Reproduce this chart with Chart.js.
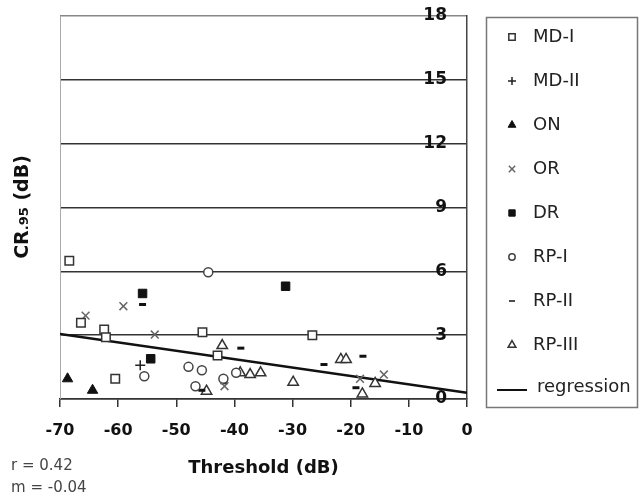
<!DOCTYPE html>
<html>
<head>
<meta charset="utf-8">
<script src="https://cdn.jsdelivr.net/npm/chart.js"></script>
<style>
  html, body { margin: 0; padding: 0; background: #fff; }
  canvas { display: block; }
</style>
</head>
<body>
<canvas id="c" width="639" height="495"></canvas>
<script>
// Axis ticks (dB)
const xTicks = [-70, -60, -50, -40, -30, -20, -10, 0];
const yTicks = [0, 3, 6, 9, 12, 15, 18];

// Series: [threshold dB, CR.95 dB]
const mdI   = [[-68.4, 6.5], [-66.4, 3.58], [-62.4, 3.27], [-62.1, 2.9], [-60.5, 0.95], [-45.5, 3.14], [-42.9, 2.04], [-26.6, 3.0]];
const mdII  = [[-56.2, 1.59]];
const on    = [[-68.7, 0.95], [-64.4, 0.41]];
const or    = [[-65.6, 3.92], [-59.1, 4.36], [-53.7, 3.03], [-41.7, 0.6], [-18.4, 0.95], [-14.3, 1.15]];
const dr    = [[-55.8, 4.96], [-54.4, 1.89], [-31.2, 5.3]];
const rpI   = [[-55.5, 1.07], [-47.9, 1.51], [-45.6, 1.35], [-46.7, 0.6], [-44.5, 5.96], [-41.9, 0.95], [-39.7, 1.23]];
const rpII  = [[-55.8, 4.44], [-38.9, 2.39], [-24.6, 1.62], [-17.9, 2.01], [-19.1, 0.53], [-41.8, 0.76], [-45.6, 0.41]];
const rpIII = [[-42.1, 2.51], [-44.8, 0.37], [-39.0, 1.23], [-37.3, 1.15], [-35.5, 1.23], [-29.9, 0.79], [-21.7, 1.86], [-20.8, 1.86], [-15.8, 0.73], [-18.0, 0.24]];
const regression = [[-70, 3.05], [0, 0.29]];

const statLines = ['r = 0.42', 'm = -0.04'];

const toXY = arr => arr.map(([x, y]) => ({ x, y }));

function scatterSet(label, data, style) {
  return Object.assign({ type: 'scatter', label, data: toXY(data) }, style);
}

const datasets = [
  scatterSet('MD-I', mdI, { pointStyle: 'rect', pointRadius: 6, backgroundColor: '#fff', borderColor: '#333', borderWidth: 1.5, legendRadius: 4.5 }),
  scatterSet('MD-II', mdII, { pointStyle: 'cross', pointRadius: 5, backgroundColor: '#222', borderColor: '#222', borderWidth: 1.5, legendRadius: 4 }),
  scatterSet('ON', on, { pointStyle: 'triangle', pointRadius: 6, backgroundColor: '#111', borderColor: '#111', borderWidth: 1, legendRadius: 4.5 }),
  scatterSet('OR', or, { pointStyle: 'crossRot', pointRadius: 5.5, backgroundColor: '#666', borderColor: '#666', borderWidth: 1.5, legendRadius: 4.5 }),
  scatterSet('DR', dr, { pointStyle: 'rect', pointRadius: 6, backgroundColor: '#111', borderColor: '#111', borderWidth: 1, legendRadius: 4.5 }),
  scatterSet('RP-I', rpI, { pointStyle: 'circle', pointRadius: 4.5, backgroundColor: '#fff', borderColor: '#444', borderWidth: 1.5, legendRadius: 3.2 }),
  scatterSet('RP-II', rpII, { pointStyle: 'line', pointRadius: 3.5, backgroundColor: '#111', borderColor: '#111', borderWidth: 3, legendRadius: 3 }),
  scatterSet('RP-III', rpIII, { pointStyle: 'triangle', pointRadius: 6, backgroundColor: '#fff', borderColor: '#333', borderWidth: 1.5, legendRadius: 4.5 }),
  {
    type: 'line', label: 'regression', data: toXY(regression),
    borderColor: '#111', borderWidth: 2.5, pointRadius: 0, fill: false, tension: 0
  }
];

const FONT = '"DejaVu Sans", "Liberation Sans", Arial, sans-serif';

// Boxed legend to the right of the plot, plus fit statistics and the y title
const decorations = {
  id: 'decorations',
  beforeDatasetsDraw(chart) {
    const { ctx, chartArea: a } = chart;
    ctx.save();
    ctx.strokeStyle = '#aaa';
    ctx.lineWidth = 1;
    ctx.beginPath();
    ctx.moveTo(a.left + 0.5, a.top);
    ctx.lineTo(a.left + 0.5, a.bottom);
    ctx.stroke();
    ctx.restore();
  },
  afterDraw(chart) {
    const { ctx } = chart;
    ctx.save();

    // legend frame
    ctx.strokeStyle = '#777';
    ctx.lineWidth = 1.5;
    ctx.strokeRect(486.5, 17.5, 151, 390);

    ctx.font = '18px ' + FONT;
    ctx.textBaseline = 'middle';
    chart.data.datasets.forEach((ds, i) => {
      const y = 37 + i * 44;
      if (ds.type === 'line') {
        ctx.strokeStyle = ds.borderColor;
        ctx.lineWidth = 2;
        ctx.beginPath();
        ctx.moveTo(497, y + 1);
        ctx.lineTo(527, y + 1);
        ctx.stroke();
        ctx.fillStyle = '#222';
        ctx.fillText(ds.label, 537, y - 2);
      } else {
        ctx.fillStyle = ds.backgroundColor;
        ctx.strokeStyle = ds.borderColor;
        ctx.lineWidth = Math.min(ds.borderWidth, 1.5);
        Chart.helpers.drawPoint(ctx, {
          pointStyle: ds.pointStyle, rotation: 0,
          radius: ds.legendRadius, borderWidth: ctx.lineWidth
        }, 512, y);
        ctx.fillStyle = '#222';
        ctx.fillText(ds.label, 533, y);
      }
    });

    // r and slope
    ctx.fillStyle = '#444';
    ctx.font = '15px ' + FONT;
    ctx.textBaseline = 'middle';
    ctx.textAlign = 'left';
    ctx.fillText(statLines[0], 11, 466);
    ctx.fillText(statLines[1], 11, 488);

    // y title with small ".95"
    ctx.translate(21, 207);
    ctx.rotate(-Math.PI / 2);
    ctx.fillStyle = '#111';
    ctx.textBaseline = 'alphabetic';
    const parts = [
      { t: 'CR', f: 'bold 19px ' + FONT },
      { t: '.95', f: 'bold 13px ' + FONT },
      { t: ' (dB)', f: 'bold 19px ' + FONT }
    ];
    let total = 0;
    parts.forEach(p => { ctx.font = p.f; p.w = ctx.measureText(p.t).width; total += p.w; });
    let x = -total / 2;
    parts.forEach(p => { ctx.font = p.f; ctx.fillText(p.t, x, 7); x += p.w; });
    ctx.restore();
  }
};

new Chart(document.getElementById('c'), {
  data: { datasets },
  options: {
    responsive: false,
    animation: false,
    devicePixelRatio: 1,
    layout: { padding: { left: 60, right: 172, top: 16, bottom: 0 } },
    plugins: { legend: { display: false }, tooltip: { enabled: false } },
    scales: {
      x: {
        type: 'linear',
        position: 'bottom',
        min: xTicks[0],
        max: xTicks[xTicks.length - 1],
        afterBuildTicks: s => { s.ticks = xTicks.map(v => ({ value: v })); },
        afterFit: s => { s.height = 96; },
        grid: { drawOnChartArea: false, drawTicks: true, tickLength: 8, color: '#333', lineWidth: 1.5 },
        border: { display: true, color: '#333', width: 1.5 },
        ticks: { color: '#111', font: { family: FONT, size: 16, weight: 'bold' }, padding: 14, maxRotation: 0 },
        title: { display: true, text: 'Threshold (dB)', color: '#111', font: { family: FONT, size: 18, weight: 'bold' }, padding: { top: 4, bottom: 16 } }
      },
      y: {
        type: 'linear',
        position: 'right',
        min: yTicks[0],
        max: yTicks[yTicks.length - 1],
        afterBuildTicks: s => { s.ticks = yTicks.map(v => ({ value: v })); },
        afterFit: s => { s.width = 0; },
        grid: { drawOnChartArea: true, drawTicks: false, color: c => (c.tick && c.tick.value === 18 ? '#888' : '#333'), lineWidth: 1.5 },
        border: { display: true, color: '#444', width: 1.5 },
        ticks: { mirror: true, padding: -20, color: '#111', font: { family: FONT, size: 17, weight: 'bold' } }
      }
    }
  },
  plugins: [decorations]
});
</script>
</body>
</html>
